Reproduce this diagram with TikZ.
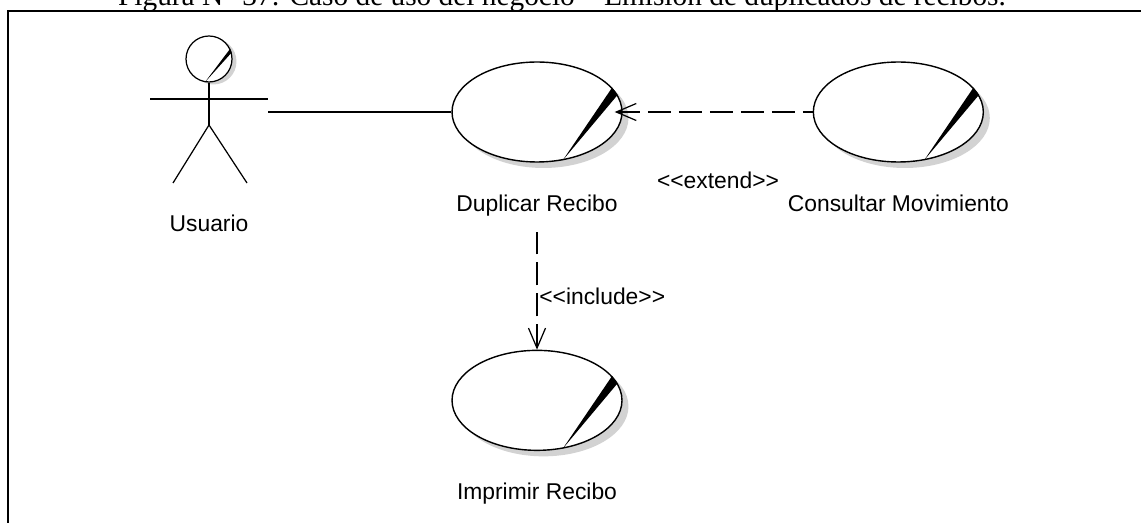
\documentclass[tikz,border=0pt]{standalone}
\usepackage{fontspec}
\setmainfont{Liberation Serif}
\setsansfont{Liberation Sans}
\usetikzlibrary{positioning,shapes.geometric,shadows,arrows.meta}

\begin{document}
\begin{tikzpicture}[x=0.02cm,y=-0.02cm,
  node distance=0.64cm,
  >={Straight Barb[length=0.4cm,width=0.34cm]},
  usecase/.style={ellipse,draw,fill=white,line width=0.8pt,
    minimum width=3.4cm,minimum height=2cm,inner sep=0pt,
    general shadow={fill=gray!35,shadow xshift=0.13cm,shadow yshift=-0.12cm}},
  ucname/.style={font=\sffamily\fontsize{13}{15}\selectfont,inner sep=0pt},
  dep/.style={line width=0.7pt,dash pattern=on 0.46cm off 0.16cm},
  stick/.style={line width=0.7pt}]
\useasboundingbox (0,0) rectangle (1141,523);

% frame and caption
\draw[line width=1.3pt] (8,523) -- (8,11) -- (1141,11);
\node (caption) [anchor=base,inner sep=0pt,font=\fontsize{16.7}{18}\selectfont] at (562,5.5)
  {Figura N° 37: Caso de uso del negocio – Emisión de duplicados de recibos.};

% actor
\node (head) [circle,draw,fill=white,stick,minimum size=0.92cm,inner sep=0pt,
  general shadow={fill=gray!35,shadow xshift=0.09cm,shadow yshift=-0.05cm}] at (209,59) {};
\fill (head.-100) -- (head.16) -- (head.26) -- cycle;
\coordinate (hip) at (209,125);
\coordinate (larm) at (150,99);
\coordinate (rarm) at (268,99);
\coordinate (lfoot) at (173,183);
\coordinate (rfoot) at (247,183);
\coordinate (hand) at (268,112);
\node (usuario) [ucname] at (209,223) {Usuario};

% use cases
\node (dup) [usecase] at (537,112) {};
\node (cons) [usecase,right=3.8cm of dup] {};
\node (imp) [usecase,below=3.74cm of dup] {};
\fill (dup.-62) -- (dup.12) -- (dup.18) -- cycle;
\fill (cons.-62) -- (cons.12) -- (cons.18) -- cycle;
\fill (imp.-62) -- (imp.12) -- (imp.18) -- cycle;
\node (duplbl) [ucname,below=of dup] {Duplicar Recibo};
\node (conslbl) [ucname,below=of cons] {Consultar Movimiento};
\node (implbl) [ucname,below=of imp] {Imprimir Recibo};
\node (extlbl) [ucname] at (718,180) {<\kern0pt<extend>\kern0pt>};

% lines
\draw[stick] (head) -- (hip);
\draw[stick] (larm) -- (rarm);
\draw[stick] (lfoot) -- (hip) -- (rfoot);
\draw[stick] (hand) -- (dup);
\draw[dep,<-,shorten <=-0.16cm] (dup) -- (cons);
\draw[dep,<-,shorten >=0.3cm] (imp) -- node[ucname,right,pos=0.4,inner sep=1pt] {<\kern0pt<include>\kern0pt>} (duplbl);
\end{tikzpicture}
\end{document}
